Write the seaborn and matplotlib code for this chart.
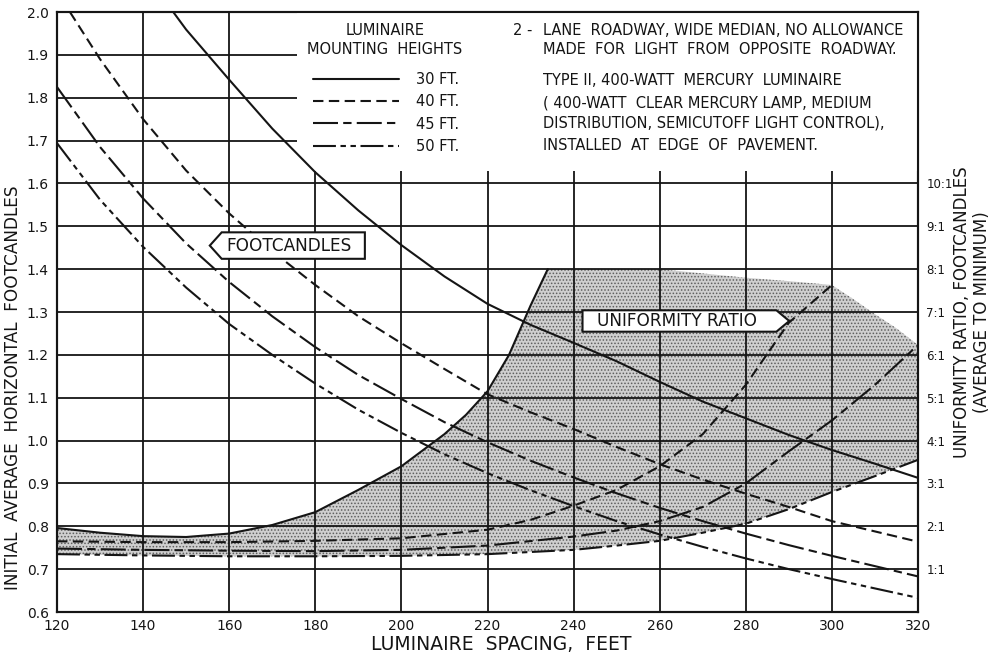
import numpy as np
import pandas as pd
import matplotlib
matplotlib.use("Agg")
import matplotlib.pyplot as plt
import seaborn as sns
from matplotlib.path import Path
from matplotlib.patches import Rectangle

# ---------------- data ----------------
# Footcandle curves (left axis, footcandles)
fc30_x = [147, 150, 160, 170, 180, 190, 200, 210, 220, 230, 240, 250, 260, 270, 280, 290, 300, 310, 320]
fc30 = [2.0, 1.959, 1.842, 1.728, 1.626, 1.537, 1.456, 1.383, 1.319, 1.270, 1.228, 1.185, 1.137, 1.091,
        1.052, 1.013, 0.978, 0.946, 0.913]
fc40_x = [123, 130, 140, 150, 160, 170, 180, 190, 200, 210, 220, 230, 240, 250, 260, 270, 280, 290, 300, 310, 320]
fc40 = [2.0, 1.89, 1.75, 1.63, 1.53, 1.442, 1.363, 1.29, 1.227, 1.167, 1.108, 1.066, 1.027, 0.985, 0.945,
        0.909, 0.876, 0.845, 0.812, 0.788, 0.764]
fc_x = [120, 130, 140, 150, 160, 170, 180, 190, 200, 210, 220, 230, 240, 250, 260, 270, 280, 290, 300, 310, 320]
fc45 = [1.825, 1.685, 1.565, 1.46, 1.37, 1.29, 1.218, 1.153, 1.097, 1.043, 0.996, 0.953, 0.914, 0.877,
        0.843, 0.812, 0.783, 0.756, 0.731, 0.707, 0.683]
fc50 = [1.694, 1.562, 1.452, 1.357, 1.272, 1.200, 1.133, 1.072, 1.018, 0.968, 0.924, 0.884, 0.847, 0.812,
        0.781, 0.752, 0.725, 0.700, 0.677, 0.655, 0.633]

# Uniformity ratio curves (right axis, ratio average : minimum)
ur30_x = [120, 130, 140, 150, 160, 170, 180, 190, 200, 210, 215, 220, 225, 230, 234]
ur30 = [1.96, 1.85, 1.77, 1.75, 1.83, 2.03, 2.33, 2.85, 3.4, 4.15, 4.6, 5.15, 6.0, 7.15, 8.0]
ur40_x = [120, 140, 160, 180, 200, 220, 230, 240, 250, 260, 270, 280, 290, 300]
ur40 = [1.65, 1.63, 1.63, 1.66, 1.72, 1.92, 2.15, 2.48, 2.85, 3.4, 4.15, 5.3, 6.75, 7.63]
ur45_x = [120, 140, 160, 180, 200, 220, 240, 250, 260, 270, 280, 290, 300, 310, 320]
ur45 = [1.48, 1.45, 1.43, 1.42, 1.45, 1.55, 1.76, 1.9, 2.12, 2.45, 3.0, 3.75, 4.47, 5.3, 6.23]
ur50_x = [120, 140, 160, 180, 200, 220, 240, 250, 260, 270, 280, 290, 300, 310, 320]
ur50 = [1.35, 1.32, 1.30, 1.30, 1.31, 1.35, 1.45, 1.55, 1.66, 1.85, 2.06, 2.4, 2.8, 3.17, 3.55]

# Stippled band of uniformity ratios
shade_x = [120, 130, 140, 150, 160, 170, 180, 190, 200, 210, 215, 220, 225, 230, 234, 240, 250, 260, 270,
           280, 290, 300, 305, 310, 315, 320]
shade_top = [1.96, 1.85, 1.77, 1.75, 1.83, 2.03, 2.33, 2.85, 3.4, 4.15, 4.6, 5.15, 6.0, 7.15, 8.0, 8.0, 8.0,
             8.0, 7.9, 7.8, 7.72, 7.63, 7.3, 6.95, 6.62, 6.23]
shade_bottom = [1.35, 1.33, 1.32, 1.31, 1.30, 1.30, 1.30, 1.30, 1.31, 1.33, 1.34, 1.35, 1.38, 1.40, 1.42,
                1.45, 1.55, 1.66, 1.85, 2.06, 2.4, 2.8, 2.98, 3.17, 3.36, 3.55]

heights = ["30 FT.", "40 FT.", "45 FT.", "50 FT."]
x_ticks = [120, 140, 160, 180, 200, 220, 240, 260, 280, 300, 320]
y_ticks = [0.6, 0.7, 0.8, 0.9, 1.0, 1.1, 1.2, 1.3, 1.4, 1.5, 1.6, 1.7, 1.8, 1.9, 2.0]
y_tick_labels = ["0.6", "0.7", "0.8", "0.9", "1.0", "1.1", "1.2", "1.3", "1.4", "1.5", "1.6", "1.7",
                 "1.8", "1.9", "2.0"]
ratio_ticks = [1, 2, 3, 4, 5, 6, 7, 8, 9, 10]
ratio_labels = ["1:1", "2:1", "3:1", "4:1", "5:1", "6:1", "7:1", "8:1", "9:1", "10:1"]

# ---------------- styling ----------------
sns.set_theme(style="white")
plt.rcParams["font.family"] = ["DejaVu Sans"]
plt.rcParams["hatch.linewidth"] = 0.7
INK = "#151515"

styles = {
    "30 FT.": "-",
    "40 FT.": (0, (5, 2.6)),
    "45 FT.": (0, (12, 2.5, 4, 2.5)),
    "50 FT.": (0, (11, 2.2, 2.6, 2.2, 2.6, 2.2)),
}
LW = 1.5

W, H = 995, 655
fig = plt.figure(figsize=(W / 100, H / 100), dpi=100)
ax = fig.add_axes([57 / W, 1 - 612 / H, (918 - 57) / W, 600 / H])
ax2 = ax.twinx()
ax.set_zorder(2)
ax2.set_zorder(1)
ax.patch.set_visible(False)


def fpx(x, y):
    return x / W, 1 - y / H


# ---- uniformity band and curves (right axis) ----
ax2.fill_between(shade_x, shade_bottom, shade_top, facecolor="#cfcfcf", edgecolor="#5e5e5e",
                 hatch=".....", linewidth=0, zorder=0.5)
for xs, ys, key in [(ur30_x, ur30, "30 FT."), (ur40_x, ur40, "40 FT."),
                    (ur45_x, ur45, "45 FT."), (ur50_x, ur50, "50 FT.")]:
    sns.lineplot(x=xs, y=ys, ax=ax2, color=INK, lw=LW, linestyle=styles[key], errorbar=None)

# ---- footcandle curves (left axis) ----
handles = []
for xs, ys, key in [(fc30_x, fc30, "30 FT."), (fc40_x, fc40, "40 FT."),
                    (fc_x, fc45, "45 FT."), (fc_x, fc50, "50 FT.")]:
    sns.lineplot(x=xs, y=ys, ax=ax, color=INK, lw=LW, linestyle=styles[key], errorbar=None, zorder=3)
    handles.append(ax.get_lines()[-1])

# ---- axes ----
ax.set_xlim(120, 320)
ax.set_ylim(0.6, 2.0)
ax2.set_ylim(0, 14)
ax.set_xticks(x_ticks)
ax.set_yticks(y_ticks)
ax.set_yticklabels(y_tick_labels)
ax.set_xticklabels([str(v) for v in x_ticks])
ax.grid(True, color=INK, lw=1.3)
ax.set_axisbelow(True)
ax.tick_params(axis="both", length=0, labelsize=10, colors=INK)
ax.tick_params(axis="y", pad=6)
ax.tick_params(axis="x", pad=5)
ax2.set_yticks(ratio_ticks)
ax2.set_yticklabels(ratio_labels)
ax2.tick_params(axis="y", length=0, labelsize=8.5, pad=6, colors=INK)
ax2.grid(False)
for a in (ax, ax2):
    for s in a.spines.values():
        s.set_color(INK)
        s.set_linewidth(1.5)
ax.set_xlabel("")
ax.set_ylabel("")
ax2.set_ylabel("")

# white panel in the top-right corner of the grid
ax.add_patch(Rectangle((175.7, 1.63), 320 - 175.7, 2.0 - 1.63, facecolor="white",
                       edgecolor="none", zorder=0.8))

# ---- legend ----
leg = ax.legend(handles, heights, loc="upper center",
                bbox_to_anchor=((386 - 57) / 861, (612 - 72) / 600),
                frameon=False, fontsize=10.5, handlelength=5.9,
                handletextpad=1.2, labelspacing=0.5, borderpad=0, borderaxespad=0)
leg.set_zorder(6)
for t in leg.get_texts():
    t.set_color(INK)
tc = dict(fontsize=10.5, color=INK, ha="center", va="baseline")
fig.text(*fpx(385, 35), "LUMINAIRE", **tc)
fig.text(*fpx(385, 54), "MOUNTING  HEIGHTS", **tc)

# ---- notes text ----
tk = dict(fontsize=10.5, color=INK, ha="left", va="baseline")
fig.text(*fpx(513, 35), "2 -", **tk)
fig.text(*fpx(543, 35), "LANE  ROADWAY, WIDE MEDIAN, NO ALLOWANCE", **tk)
fig.text(*fpx(543, 54), "MADE  FOR  LIGHT  FROM  OPPOSITE  ROADWAY.", **tk)
fig.text(*fpx(543, 85), "TYPE II, 400-WATT  MERCURY  LUMINAIRE", **tk)
fig.text(*fpx(543, 107), "( 400-WATT  CLEAR MERCURY LAMP, MEDIUM", **tk)
fig.text(*fpx(543, 128), "DISTRIBUTION, SEMICUTOFF LIGHT CONTROL),", **tk)
fig.text(*fpx(543, 150), "INSTALLED  AT  EDGE  OF  PAVEMENT.", **tk)


# ---- tag boxes ----
def left_tag(x0, y0, width, height, mutation_size):
    pv = 0.25 * mutation_size
    pl = 0.3 * mutation_size
    pr = 0.75 * mutation_size
    x0, y0 = x0 - pl, y0 - pv
    w, h = width + pl + pr, height + 2 * pv
    tip = 0.45 * h
    return Path([(x0, y0), (x0 + w, y0), (x0 + w, y0 + h), (x0, y0 + h), (x0 - tip, y0 + h / 2),
                 (x0, y0)], closed=True)


def right_tag(x0, y0, width, height, mutation_size):
    pv = 0.1 * mutation_size
    pl = 0.85 * mutation_size
    pr = 1.15 * mutation_size
    x0, y0 = x0 - pl, y0 - pv
    w, h = width + pl + pr, height + 2 * pv
    tip = 0.6 * h
    return Path([(x0, y0), (x0 + w, y0), (x0 + w + tip, y0 + h / 2), (x0 + w, y0 + h), (x0, y0 + h),
                 (x0, y0)], closed=True)


ax.text(174.0, 1.455, "FOOTCANDLES", fontsize=12.2, color=INK, ha="center", va="center", zorder=7,
        bbox=dict(boxstyle=left_tag, facecolor="white", edgecolor=INK, lw=1.5))
ax.text(264.0, 1.279, "UNIFORMITY RATIO", fontsize=12.2, color=INK, ha="center", va="center", zorder=7,
        bbox=dict(boxstyle=right_tag, facecolor="white", edgecolor=INK, lw=1.5))

# ---- axis titles ----
fig.text(*fpx(13, 388), "INITIAL  AVERAGE  HORIZONTAL  FOOTCANDLES", rotation=90, fontsize=12.2,
         color=INK, ha="center", va="center")
fig.text(*fpx(972, 312), "UNIFORMITY RATIO, FOOTCANDLES\n(AVERAGE TO MINIMUM)", rotation=90,
         fontsize=12.0, color=INK, ha="center", va="center", linespacing=1.2)
fig.text(*fpx(501, 645), "LUMINAIRE  SPACING,  FEET", fontsize=13.5, color=INK, ha="center", va="center")

fig.savefig("out.png", dpi=100, facecolor="white")
